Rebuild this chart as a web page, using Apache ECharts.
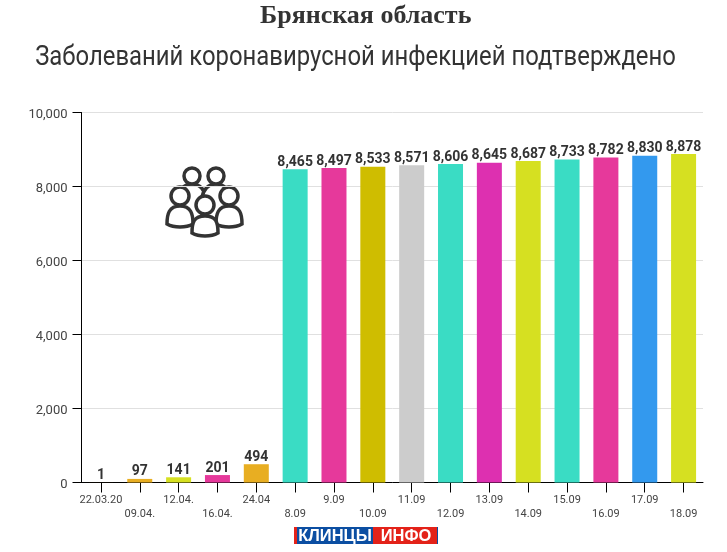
<!DOCTYPE html>
<html>
<head>
<meta charset="utf-8">
<style>html,body{margin:0;padding:0;background:#fff}#main{width:727px;height:552px}</style>
<script src="https://cdn.jsdelivr.net/npm/echarts@6/dist/echarts.min.js"></script>
</head>
<body>
<div id="main"></div>
<script>
var categories = ['22.03.20','09.04.','12.04.','16.04.','24.04','8.09','9.09','10.09','11.09','12.09','13.09','14.09','15.09','16.09','17.09','18.09'];
var values = [1,97,141,201,494,8465,8497,8533,8571,8606,8645,8687,8733,8782,8830,8878];
var colors = ['#e8ae22','#e8ae22','#d6e021','#e6399b','#e8ae22','#3adcc4','#e6399b','#cfbd00','#cccccc','#3adcc4','#dd30b0','#d6e021','#3adcc4','#e6399b','#3399ee','#d6e021'];
var mainFont = 'Roboto,sans-serif';

var myChart = echarts.init(document.getElementById('main'));

var shapeCount = 0;
function body(d) {
	// graphic не понимает type: 'path', поэтому регистрируем свою фигуру
	var name = 'iconBody' + (shapeCount++);
	echarts.graphic.registerShape(name, echarts.graphic.extendPath(d));
	return {type: name, style: {fill: '#fff', stroke: '#333', lineWidth: 3.5}};
}
function head(x, y, r) {
	return {type: 'circle', shape: {cx: x, cy: y, r: r}, style: {fill: '#fff', stroke: '#333', lineWidth: 3.5}};
}

var option = {
	animation: false,
	title: {
		text: 'Брянская область',
		left: 255,
		top: -2,
		textStyle: {fontFamily: '"Liberation Serif",serif', fontSize: 26, fontWeight: 'bold', color: '#333'}
	},
	grid: {left: 81.5, right: 24, top: 112.5, bottom: 69.5},
	xAxis: {
		type: 'category',
		data: categories,
		axisLine: {lineStyle: {color: '#000', width: 1}},
		axisTick: {show: true, alignWithLabel: true, length: 10, lineStyle: {color: '#000', width: 1}},
		axisLabel: {
			interval: 0,
			margin: 11,
			fontFamily: mainFont,
			fontSize: 11,
			color: '#444',
			lineHeight: 14,
			formatter: function(v, i) {
				return i % 2 ? '\n' + v : v;
			}
		}
	},
	yAxis: {
		type: 'value',
		min: 0,
		max: 10000,
		interval: 2000,
		axisLine: {show: true, lineStyle: {color: '#000', width: 1}},
		axisTick: {show: true, length: 9, lineStyle: {color: '#000', width: 1}},
		splitLine: {lineStyle: {color: '#e0e0e0'}},
		axisLabel: {
			margin: 14,
			fontFamily: mainFont,
			fontSize: 13,
			color: '#444',
			formatter: function(v) {
				return '{n|' + v.toLocaleString('en-US') + '}';
			},
			rich: {
				n: {fontFamily: mainFont, fontSize: 13, color: '#444', padding: [5, 0, 0, 0]}
			}
		}
	},
	series: [{
		type: 'bar',
		barWidth: 25,
		data: values.map(function(v, i) {
			return {value: v, itemStyle: {color: colors[i]}};
		}),
		label: {
			show: true,
			position: 'top',
			distance: 0,
			fontFamily: mainFont,
			fontSize: 14,
			fontWeight: 'bold',
			color: '#333',
			formatter: function(p) {
				return p.value.toLocaleString('en-US');
			}
		}
	}],
	graphic: [
		// подзаголовок, сжатый по ширине
		{
			type: 'text',
			x: 355.5,
			y: 58,
			scaleX: 0.884,
			style: {
				text: 'Заболеваний коронавирусной инфекцией подтверждено',
				fill: '#333',
				font: '27px Roboto,sans-serif',
				align: 'center',
				verticalAlign: 'middle'
			}
		},
		// значок людей
		{
			type: 'group',
			children: [
				body('M178 200 C178 190 184 184 192 184 C200 184 205 190 206 198 L206 222 L178 222 Z'),
				body('M202 198 C203 190 208 184 216 184 C224 184 230 190 230 200 L230 222 L202 222 Z'),
				head(192, 176, 8),
				head(216, 176, 8),
				body('M167 224 C167 214 169 206 180 206 C191 206 193 214 193 224 C186 228 174 228 167 224 Z'),
				body('M216 224 C216 214 218 206 229 206 C240 206 242 214 242 224 C235 228 223 228 216 224 Z'),
				head(180, 196, 9),
				head(229, 196, 9),
				body('M192 233 C192 222 194 216 205 216 C216 216 218 222 218 233 C211 237 199 237 192 233 Z'),
				head(205, 205, 9)
			]
		},
		// логотип
		{type: 'rect', shape: {x: 294, y: 527, width: 144, height: 17}, style: {fill: '#e32219'}},
		{type: 'rect', shape: {x: 297, y: 527, width: 76, height: 17}, style: {fill: '#0b4ea2'}},
		{type: 'rect', shape: {x: 437, y: 527, width: 1, height: 17}, style: {fill: '#0b4ea2'}},
		{type: 'text', x: 335, y: 536, style: {text: 'КЛИНЦЫ', fill: '#fff', font: 'bold 16.5px "Liberation Sans",sans-serif', align: 'center', verticalAlign: 'middle'}},
		{type: 'text', x: 406, y: 536, style: {text: 'ИНФО', fill: '#fff', font: 'bold 16.5px "Liberation Sans",sans-serif', align: 'center', verticalAlign: 'middle'}}
	]
};
myChart.setOption(option);
</script>
</body>
</html>
